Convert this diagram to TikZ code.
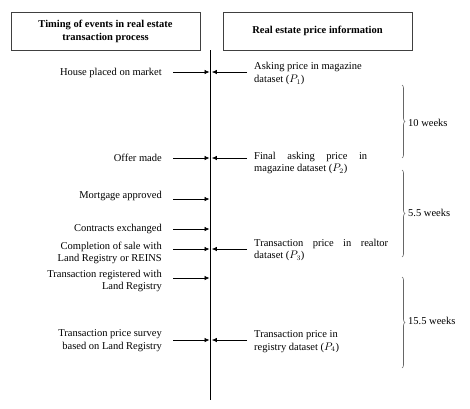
\documentclass[tikz,border=0pt]{standalone}
\usepackage{fontspec}
\setmainfont{Liberation Serif}
\usetikzlibrary{arrows.meta,decorations.pathreplacing}
\begin{document}
\begin{tikzpicture}[x=1pt,y=-1pt,
  hdr/.style={draw=black!75,line width=0.8pt,minimum width=189pt,minimum height=38pt,inner sep=2pt,align=center,font=\fontsize{10.5}{13}\selectfont\bfseries},
  ltxt/.style={anchor=east,align=right,inner sep=0pt,font=\fontsize{10.5}{12.8}\selectfont},
  rtxt/.style={anchor=west,align=left,inner sep=0pt,font=\fontsize{10.5}{12.8}\selectfont},
  arr/.style={line width=0.7pt,-{Latex[length=5pt,width=4.5pt]}},
  brc/.style={draw=black!60,line width=0.6pt,decorate,decoration={brace,amplitude=3pt}},
  blab/.style={anchor=west,inner sep=0pt,font=\fontsize{10.5}{12}\selectfont}]
\useasboundingbox (0,0) rectangle (470,408);
% headers
\node[hdr] (hl) at (105.5,31) {Timing of events in real estate\\transaction process};
\node[hdr] (hr) at (317.5,31) {Real estate price information};
% timeline
\coordinate (top) at (210.5,50);
\coordinate (bot) at (210.5,400);
\draw[line width=1.8pt] (top) -- (bot);
% left events
\node[ltxt] (e1) at (162,73) {House placed on market};
\node[ltxt] (e2) at (162,158) {Offer made};
\node[ltxt] (e3) at (162,196) {Mortgage approved};
\node[ltxt] (e4) at (162,229) {Contracts exchanged};
\node[ltxt] (e5) at (162,253) {Completion of sale with\\Land Registry or REINS};
\node[ltxt] (e6) at (162,281) {Transaction registered with\\Land Registry};
\node[ltxt] (e7) at (162,341) {Transaction price survey\\based on Land Registry};
% right info
\node[rtxt] (p1) at (254,73.5) {Asking price in magazine\\dataset ($P_1$)};
\node[rtxt] (p2) at (254,163) {\makebox[113pt][s]{Final asking price in}\\magazine dataset ($P_2$)};
\node[rtxt] (p3) at (254,250) {\makebox[134pt][s]{Transaction price in realtor}\\dataset ($P_3$)};
\node[rtxt] (p4) at (254,341.5) {Transaction price in\\registry dataset ($P_4$)};
% arrow coordinates
\foreach \n/\y in {1/72,2/158,3/199,4/229,5/249,6/278,7/340}{
  \coordinate (ls\n) at (173,\y);
  \coordinate (lt\n) at (209.5,\y);
}
\foreach \n/\y in {1/72,2/158,5/249,7/340}{
  \coordinate (rs\n) at (247,\y);
  \coordinate (rt\n) at (211.8,\y);
}
\foreach \n in {1,...,7}{\draw[arr] (ls\n) -- (lt\n);}
\foreach \n in {1,2,5,7}{\draw[arr] (rs\n) -- (rt\n);}
% braces
\coordinate (b1a) at (402,85); \coordinate (b1b) at (402,158);
\coordinate (b2a) at (402,170); \coordinate (b2b) at (402,257);
\coordinate (b3a) at (402,277); \coordinate (b3b) at (402,368);
\draw[brc] (b1a) -- (b1b);
\draw[brc] (b2a) -- (b2b);
\draw[brc] (b3a) -- (b3b);
\node[blab] (w1) at (408,123) {10 weeks};
\node[blab] (w2) at (408,213) {5.5 weeks};
\node[blab] (w3) at (408,321) {15.5 weeks};
\end{tikzpicture}
\end{document}
